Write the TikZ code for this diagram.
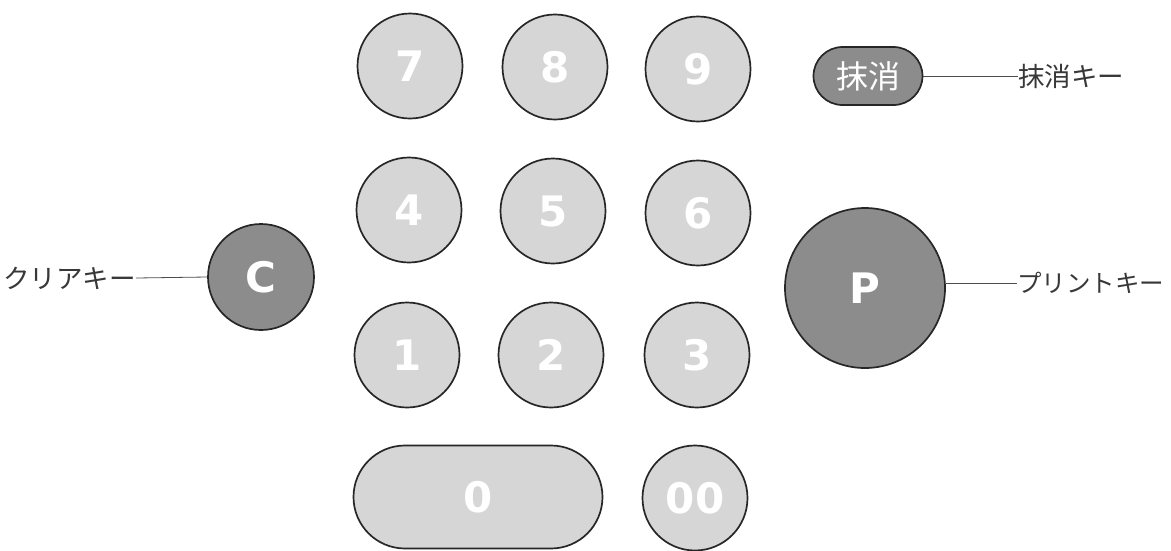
\documentclass[tikz,border=0pt]{standalone}
\usepackage{fontspec}
\setmainfont{DejaVu Sans}
\newfontfamily\jpfont{Noto Sans CJK JP}
\usetikzlibrary{shapes.misc}
\definecolor{keylight}{RGB}{214,214,214}
\definecolor{keydark}{RGB}{140,140,140}
\begin{document}
\begin{tikzpicture}[x=1pt,y=-1pt,
  keybase/.style={draw=black!85,line width=1.7pt,inner sep=0pt,text=white,
    font=\fontsize{42}{42}\selectfont\bfseries},
  numkey/.style={keybase,circle,fill=keylight,minimum size=105pt},
  darkkey/.style={keybase,circle,fill=keydark},
  pillkey/.style={keybase,rounded rectangle},
  lbl/.style={inner sep=0pt,font=\jpfont\fontsize{26.5}{26.5}\selectfont,text=black!78},
  lead/.style={draw=black!70,line width=0.8pt}]
\useasboundingbox (0,0) rectangle (1171,550);
\node[numkey] (k7) at (410,66) {7};
\node[numkey] (k8) at (555,67) {8};
\node[numkey] (k9) at (698,69) {9};
\node[numkey] (k4) at (409,210) {4};
\node[numkey] (k5) at (553,211) {5};
\node[numkey] (k6) at (698,213) {6};
\node[numkey] (k1) at (407,355) {1};
\node[numkey] (k2) at (551,355) {2};
\node[numkey] (k3) at (697,355) {3};
\node[pillkey,fill=keylight,minimum width=249pt,minimum height=103pt] (k0) at (478,497) {0};
\node[numkey] (k00) at (695,498) {00};
\node[darkkey,minimum size=106pt] (kc) at (261,277) {C};
\node[darkkey,minimum size=160pt] (kp) at (865,288) {P};
\node[pillkey,fill=keydark,minimum width=109pt,minimum height=58pt,
  font=\jpfont\fontsize{32}{32}\selectfont] (kx) at (868,76) {抹消};
\node[lbl,anchor=west] (lc) at (3,278) {クリアキー};
\node[lbl,anchor=west] (lx) at (1018,76) {抹消キー};
\node[lbl,anchor=west,font=\jpfont\fontsize{24.5}{24.5}\selectfont] (lp) at (1017,283) {プリントキー};
\draw[lead] (lc.east) -- (kc.west);
\draw[lead] (kx.east) -- (lx.west);
\draw[lead] (kp.east |- lp.west) -- (lp.west);
\end{tikzpicture}
\end{document}
